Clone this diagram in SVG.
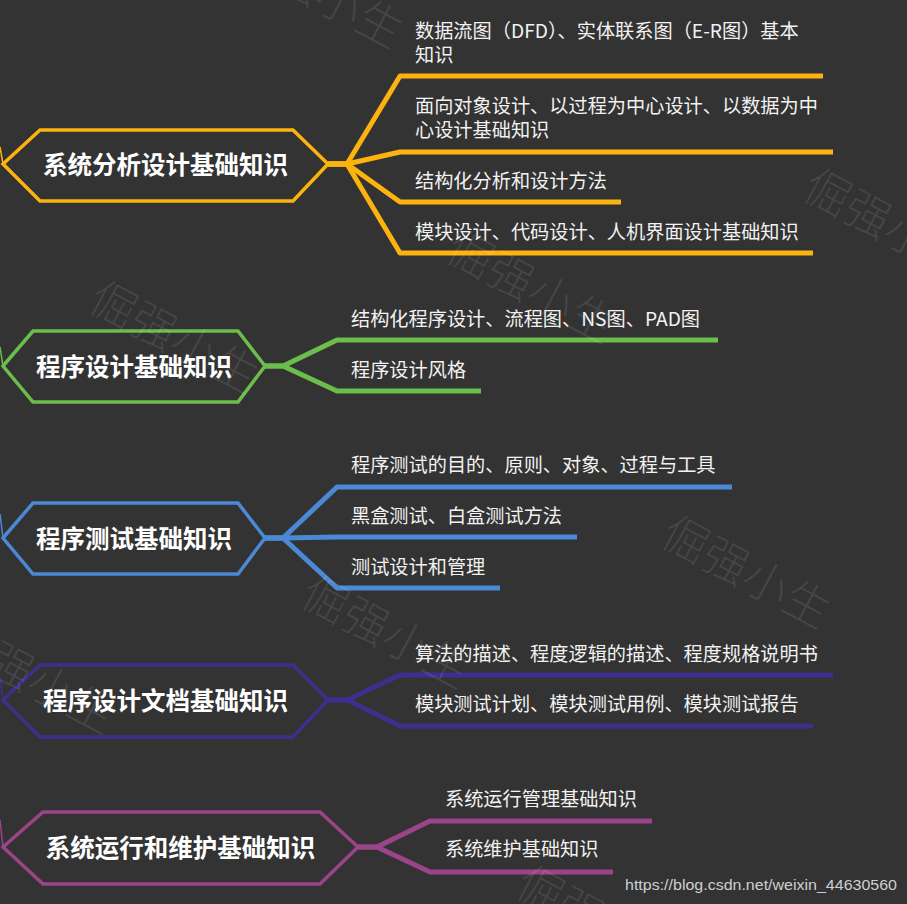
<svg xmlns="http://www.w3.org/2000/svg" width="907" height="904" viewBox="0 0 907 904">
<style>
.bg{fill:#333333}
.wm{font-family:"Noto Sans CJK SC","Noto Sans",sans-serif;font-size:46px;font-weight:300;fill:#ffffff;fill-opacity:0.09}
.hex{fill:#333333;stroke-width:3.5;stroke-linejoin:miter}
.ttl{font-family:"Noto Sans CJK SC","Microsoft YaHei",sans-serif;font-size:24.5px;font-weight:bold;fill:#ffffff;text-anchor:middle;dominant-baseline:central}
.sub{font-family:"Noto Sans CJK SC","Microsoft YaHei",sans-serif;font-size:19.2px;fill:#f2f2f2;dominant-baseline:central}
.c{fill:none;stroke-width:5;stroke-linejoin:round;stroke-linecap:butt}
.s{fill:none;stroke-width:1.5}
.o{stroke:#FDB30F}.g{stroke:#6BBE4C}.b{stroke:#4B89D6}.p{stroke:#3F2F8D}.m{stroke:#9C4489}
.url{font-family:"Liberation Sans",Arial,sans-serif;font-size:15px;fill:#cfcfcf}
</style>
<rect class="bg" x="0" y="0" width="907" height="904"/>
<g id="connectors">
<path class="s o" d="M0,147 L3,164"/>
<path class="s g" d="M0,347 L3,366"/>
<path class="s b" d="M0,514 L3,538"/>
<path class="s p" d="M0,677 L3,700"/>
<path class="s m" d="M0,820 L3,847"/>
<path class="c o" d="M328,164 H347 L400,76 H823"/>
<path class="c o" d="M328,164 H347 L400,152 H833"/>
<path class="c o" d="M328,164 H347 L400,202 H621"/>
<path class="c o" d="M328,164 H347 L400,253 H813"/>
<path class="c g" d="M265,366 H283 L337,340 H718"/>
<path class="c g" d="M265,366 H283 L337,391 H481"/>
<path class="c b" d="M265,538 H283 L337,487 H732"/>
<path class="c b" d="M265,538 H283 L337,537 H577"/>
<path class="c b" d="M265,538 H283 L337,588 H500"/>
<path class="c p" d="M328,700 H347 L400,675 H833"/>
<path class="c p" d="M328,700 H347 L400,726 H813"/>
<path class="c m" d="M358,847 H377 L430,821 H652"/>
<path class="c m" d="M358,847 H377 L430,872 H613"/>
</g>
<g id="node-1">
<polygon class="hex o" points="3,164 40,130 293,130 328,164 293,201 40,201"/>
<text class="ttl" x="165.5" y="163">系统分析设计基础知识</text>
</g>
<g id="node-1-1"><text class="sub" x="415" y="30">数据流图（DFD）、实体联系图（E-R图）基本</text><text class="sub" x="415" y="54">知识</text></g>
<g id="node-1-2"><text class="sub" x="415" y="105">面向对象设计、以过程为中心设计、以数据为中</text><text class="sub" x="415" y="129">心设计基础知识</text></g>
<g id="node-1-3"><text class="sub" x="415" y="180">结构化分析和设计方法</text></g>
<g id="node-1-4"><text class="sub" x="415" y="231">模块设计、代码设计、人机界面设计基础知识</text></g>
<g id="node-2">
<polygon class="hex g" points="3,366 33,331 238,331 265,366 238,402 33,402"/>
<text class="ttl" x="134" y="365">程序设计基础知识</text>
</g>
<g id="node-2-1"><text class="sub" x="351" y="318">结构化程序设计、流程图、NS图、PAD图</text></g>
<g id="node-2-2"><text class="sub" x="351" y="369">程序设计风格</text></g>
<g id="node-3">
<polygon class="hex b" points="3,538 33,503 238,503 265,538 238,574 33,574"/>
<text class="ttl" x="134" y="537">程序测试基础知识</text>
</g>
<g id="node-3-1"><text class="sub" x="351" y="464">程序测试的目的、原则、对象、过程与工具</text></g>
<g id="node-3-2"><text class="sub" x="351" y="515">黑盒测试、白盒测试方法</text></g>
<g id="node-3-3"><text class="sub" x="351" y="566">测试设计和管理</text></g>
<g id="node-4">
<polygon class="hex p" points="3,700 40,665 293,665 328,700 293,737 40,737"/>
<text class="ttl" x="165.5" y="699">程序设计文档基础知识</text>
</g>
<g id="node-4-1"><text class="sub" x="415" y="653">算法的描述、程度逻辑的描述、程度规格说明书</text></g>
<g id="node-4-2"><text class="sub" x="415" y="703">模块测试计划、模块测试用例、模块测试报告</text></g>
<g id="node-5">
<polygon class="hex m" points="3,847 43,812 320,812 358,847 320,884 43,884"/>
<text class="ttl" x="180.5" y="846">系统运行和维护基础知识</text>
</g>
<g id="node-5-1"><text class="sub" x="445" y="798">系统运行管理基础知识</text></g>
<g id="node-5-2"><text class="sub" x="445" y="848">系统维护基础知识</text></g>
<text class="url" x="625" y="890" textLength="272" lengthAdjust="spacingAndGlyphs">https://blog.csdn.net/weixin_44630560</text>
<g id="watermarks">
<text class="wm" transform="translate(113,305) rotate(28)" x="-23" y="16">倔强小生</text>
<text class="wm" transform="translate(470,255) rotate(28)" x="-23" y="16">倔强小生</text>
<text class="wm" transform="translate(827,193) rotate(28)" x="-23" y="16">倔强小生</text>
<text class="wm" transform="translate(258,-40) rotate(28)" x="-23" y="16">倔强小生</text>
<text class="wm" transform="translate(-30,645) rotate(28)" x="-23" y="16">倔强小生</text>
<text class="wm" transform="translate(325,600) rotate(28)" x="-23" y="16">倔强小生</text>
<text class="wm" transform="translate(685,540) rotate(28)" x="-23" y="16">倔强小生</text>
<text class="wm" transform="translate(540,890) rotate(28)" x="-23" y="16">倔强小生</text>
</g>
</svg>
